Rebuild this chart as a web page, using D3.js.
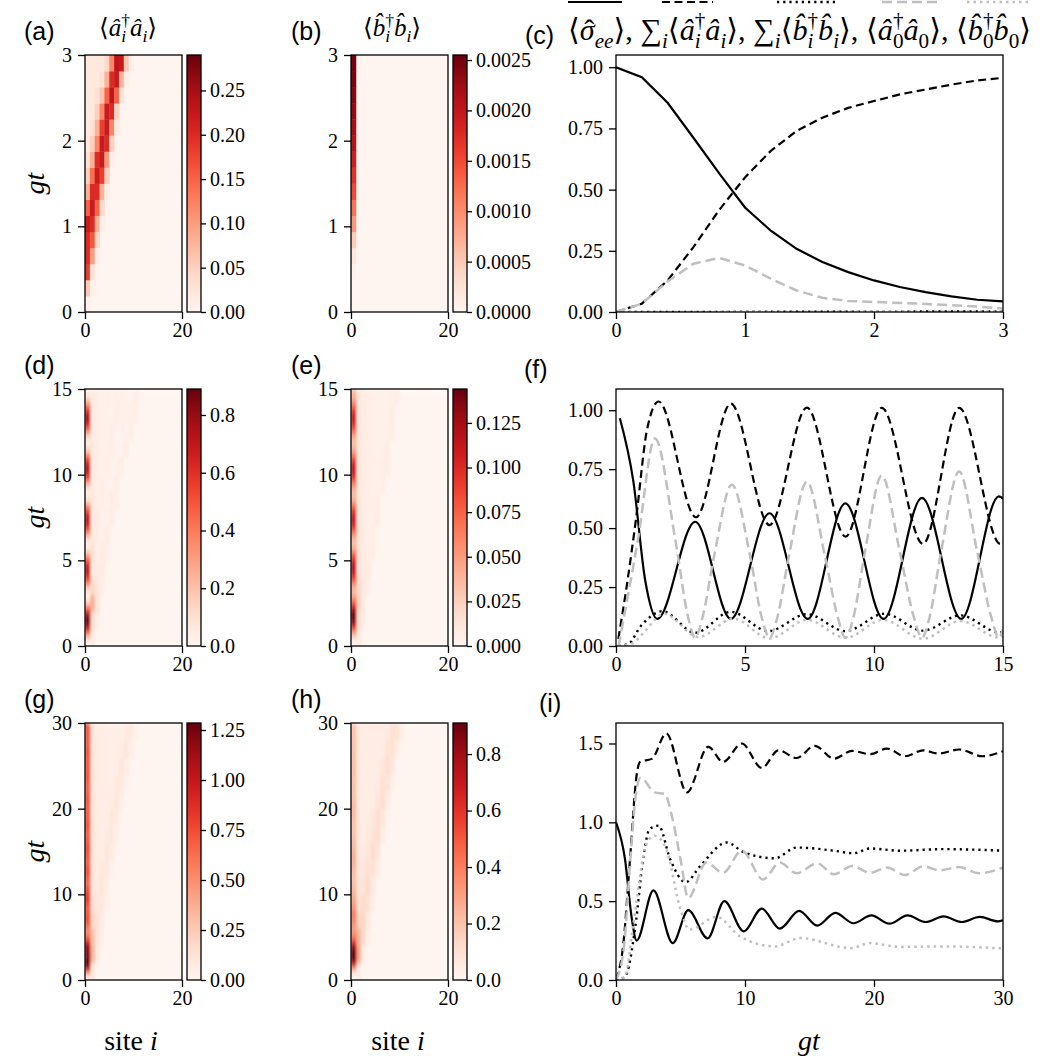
<!DOCTYPE html>
<html>
<head>
<meta charset="utf-8">
<script src="https://cdn.jsdelivr.net/npm/d3@7/dist/d3.min.js"></script>
<style>
  body { margin: 0; background: #fff; }
  svg { display: block; }
</style>
</head>
<body>
<div id="chart"></div>
<script>
// ---------- data ----------
// heatmap (a): <a_i^+ a_i>, gt 0..3 in 16 rows, values for sites 0,1,2,... (rest ~0)
var heatA = [
  [0.01],
  [0.06, 0.01],
  [0.18, 0.03],
  [0.20, 0.10, 0.01],
  [0.20, 0.16, 0.04],
  [0.22, 0.20, 0.08, 0.01],
  [0.15, 0.22, 0.15, 0.04],
  [0.08, 0.20, 0.20, 0.08, 0.01],
  [0.05, 0.14, 0.22, 0.18, 0.05],
  [0.03, 0.08, 0.20, 0.22, 0.10, 0.01],
  [0.02, 0.05, 0.12, 0.22, 0.20, 0.05],
  [0.02, 0.03, 0.08, 0.18, 0.22, 0.12, 0.02],
  [0.02, 0.02, 0.05, 0.12, 0.22, 0.20, 0.05],
  [0.02, 0.02, 0.03, 0.06, 0.15, 0.23, 0.15, 0.03],
  [0.02, 0.02, 0.02, 0.03, 0.08, 0.20, 0.22, 0.08, 0.01],
  [0.02, 0.02, 0.02, 0.02, 0.04, 0.12, 0.23, 0.22, 0.06, 0.01]
];
// heatmap (b): <b_i^+ b_i>, site 0 only, gt 0..3 in 16 rows
var heatB = [0.00001, 0.00002, 0.00005, 0.0002, 0.0005, 0.0009, 0.0012, 0.0015,
  0.0017, 0.0019, 0.0021, 0.0022, 0.0023, 0.0024, 0.00245, 0.0025];

// heatmap (d): site 0 in 60 rows (gt 0..15), sites 1..10 in 15 rows
var heatD0 = [0.01, 0.08, 0.28, 0.52, 0.74, 0.86, 0.86, 0.74, 0.52, 0.28, 0.11, 0.04,
  0.05, 0.14, 0.32, 0.50, 0.63, 0.68, 0.66, 0.58, 0.42, 0.24, 0.09, 0.04,
  0.06, 0.18, 0.36, 0.54, 0.65, 0.69, 0.66, 0.55, 0.39, 0.21, 0.08, 0.04,
  0.06, 0.17, 0.36, 0.55, 0.68, 0.72, 0.68, 0.56, 0.39, 0.21, 0.08, 0.04,
  0.08, 0.22, 0.42, 0.60, 0.71, 0.74, 0.67, 0.52, 0.35, 0.18, 0.07, 0.04];
var heatDRest = [
  [0.05],
  [0.12, 0.03],
  [0.25, 0.08],
  [0.12, 0.08, 0.03],
  [0.05, 0.05, 0.05],
  [0.10, 0.03, 0.05, 0.03],
  [0.06, 0.04, 0.02, 0.05],
  [0.05, 0.05, 0.02, 0.03, 0.04],
  [0.07, 0.03, 0.04, 0.02, 0.04, 0.03],
  [0.05, 0.03, 0.04, 0.02, 0.02, 0.04],
  [0.05, 0.03, 0.02, 0.04, 0.02, 0.02, 0.04],
  [0.06, 0.04, 0.02, 0.03, 0.03, 0.02, 0.02, 0.035],
  [0.05, 0.03, 0.03, 0.02, 0.035, 0.02, 0.02, 0.02, 0.035],
  [0.05, 0.03, 0.03, 0.02, 0.02, 0.035, 0.02, 0.02, 0.03, 0.03],
  [0.05, 0.03, 0.02, 0.03, 0.02, 0.03, 0.03, 0.02, 0.02, 0.035]
];

// heatmap (e)
var heatE0 = [0.0, 0.01, 0.03, 0.06, 0.10, 0.13, 0.142, 0.14, 0.125, 0.10, 0.07, 0.05,
  0.038, 0.04, 0.055, 0.08, 0.10, 0.113, 0.116, 0.11, 0.095, 0.075, 0.05, 0.036,
  0.035, 0.045, 0.065, 0.09, 0.105, 0.111, 0.108, 0.095, 0.075, 0.055, 0.04, 0.035,
  0.04, 0.055, 0.075, 0.095, 0.108, 0.111, 0.105, 0.09, 0.07, 0.05, 0.038, 0.033,
  0.04, 0.055, 0.075, 0.095, 0.105, 0.106, 0.10, 0.085, 0.065, 0.048, 0.038, 0.036];
var heatERest = [
  [0.01],
  [0.02, 0.005],
  [0.025, 0.008],
  [0.02, 0.01, 0.005],
  [0.015, 0.008, 0.008],
  [0.015, 0.008, 0.006, 0.006],
  [0.015, 0.008, 0.005, 0.007],
  [0.012, 0.008, 0.005, 0.005, 0.007],
  [0.012, 0.007, 0.006, 0.005, 0.007],
  [0.012, 0.007, 0.006, 0.005, 0.005, 0.007],
  [0.012, 0.007, 0.006, 0.005, 0.005, 0.006, 0.006],
  [0.012, 0.007, 0.006, 0.005, 0.004, 0.004, 0.007],
  [0.012, 0.007, 0.006, 0.005, 0.004, 0.004, 0.005, 0.006],
  [0.012, 0.007, 0.006, 0.005, 0.004, 0.004, 0.004, 0.007],
  [0.012, 0.007, 0.006, 0.005, 0.004, 0.004, 0.004, 0.005, 0.006]
];

// heatmap (g): site 0 in 60 rows (gt 0..30), sites 1..10 in 15 rows
var heatG0 = [0.05, 0.35, 0.90, 1.25, 1.26, 1.20, 1.18, 1.18, 1.05, 0.80, 0.58, 0.52,
  0.60, 0.72, 0.74, 0.71, 0.68, 0.72, 0.80, 0.82, 0.78, 0.70, 0.64, 0.66,
  0.72, 0.745, 0.72, 0.68, 0.69, 0.72, 0.74, 0.73, 0.70, 0.67, 0.68, 0.71,
  0.723, 0.71, 0.69, 0.68, 0.69, 0.71, 0.71, 0.69, 0.67, 0.67, 0.69, 0.72,
  0.715, 0.70, 0.696, 0.70, 0.712, 0.717, 0.70, 0.68, 0.677, 0.69, 0.705, 0.713];
var heatGRest = [
  [0.10],
  [0.35, 0.08],
  [0.30, 0.12, 0.03],
  [0.20, 0.13, 0.06],
  [0.15, 0.10, 0.10, 0.03],
  [0.12, 0.08, 0.11, 0.05],
  [0.12, 0.07, 0.09, 0.10, 0.03],
  [0.12, 0.07, 0.06, 0.10, 0.07],
  [0.12, 0.07, 0.06, 0.08, 0.10, 0.04],
  [0.12, 0.07, 0.06, 0.06, 0.10, 0.08],
  [0.12, 0.07, 0.06, 0.06, 0.07, 0.10, 0.05],
  [0.12, 0.07, 0.06, 0.06, 0.05, 0.09, 0.09, 0.03],
  [0.12, 0.07, 0.06, 0.06, 0.05, 0.06, 0.10, 0.07],
  [0.12, 0.07, 0.06, 0.06, 0.05, 0.05, 0.07, 0.10, 0.05],
  [0.12, 0.07, 0.06, 0.06, 0.05, 0.05, 0.05, 0.09, 0.09, 0.03]
];

// heatmap (h)
var heatH0 = [0.0, 0.03, 0.25, 0.60, 0.85, 0.91, 0.90, 0.84, 0.70, 0.50, 0.38, 0.32,
  0.33, 0.36, 0.39, 0.40, 0.37, 0.32, 0.29, 0.27, 0.25, 0.235, 0.22, 0.215,
  0.213, 0.22, 0.24, 0.26, 0.266, 0.26, 0.245, 0.23, 0.22, 0.21, 0.205, 0.202,
  0.202, 0.215, 0.228, 0.234, 0.23, 0.222, 0.215, 0.21, 0.21, 0.212, 0.214, 0.215,
  0.214, 0.213, 0.213, 0.212, 0.21, 0.207, 0.205, 0.203, 0.202, 0.201, 0.20, 0.20];
var heatHRest = [
  [0.05],
  [0.30, 0.05],
  [0.25, 0.12, 0.03],
  [0.15, 0.14, 0.06],
  [0.10, 0.12, 0.10, 0.03],
  [0.08, 0.09, 0.12, 0.06],
  [0.07, 0.07, 0.10, 0.10, 0.04],
  [0.06, 0.06, 0.07, 0.12, 0.08],
  [0.06, 0.05, 0.06, 0.09, 0.11, 0.05],
  [0.06, 0.05, 0.05, 0.07, 0.11, 0.08],
  [0.06, 0.05, 0.05, 0.05, 0.08, 0.11, 0.05],
  [0.06, 0.05, 0.05, 0.05, 0.06, 0.10, 0.09, 0.03],
  [0.06, 0.05, 0.05, 0.05, 0.05, 0.07, 0.11, 0.07],
  [0.06, 0.05, 0.05, 0.05, 0.05, 0.05, 0.09, 0.10, 0.04],
  [0.06, 0.05, 0.05, 0.05, 0.05, 0.05, 0.06, 0.10, 0.09, 0.03]
];

// panel (c): gt 0..3 step 0.2
var cTime = [0, 0.2, 0.4, 0.6, 0.8, 1.0, 1.2, 1.4, 1.6, 1.8, 2.0, 2.2, 2.4, 2.6, 2.8, 3.0];
var cSigma = [1.0, 0.959, 0.855, 0.712, 0.566, 0.427, 0.332, 0.258, 0.204, 0.163, 0.129, 0.102, 0.081, 0.064, 0.050, 0.043];
var cSumA = [0, 0.034, 0.129, 0.265, 0.417, 0.55, 0.658, 0.74, 0.794, 0.834, 0.862, 0.889, 0.909, 0.929, 0.946, 0.957];
var cSumB = [0, 0.00002, 0.0001, 0.0003, 0.0005, 0.0008, 0.001, 0.0012, 0.0014, 0.0015, 0.0016, 0.0017, 0.0018, 0.0019, 0.002, 0.002];
var cA0 = [0, 0.034, 0.125, 0.197, 0.221, 0.19, 0.136, 0.088, 0.058, 0.045, 0.041, 0.037, 0.033, 0.028, 0.022, 0.014];
var cB0 = [0, 0.00002, 0.0001, 0.0003, 0.0005, 0.0008, 0.001, 0.0012, 0.0014, 0.0015, 0.0016, 0.0017, 0.0018, 0.0019, 0.002, 0.002];

// panel (f): [gt, value]
var fSigma = [[0.15, 0.966], [0.67, 0.70], [1.13, 0.28], [1.6, 0.115], [3.07, 0.527], [4.45, 0.115],
  [5.95, 0.563], [7.43, 0.115], [8.89, 0.605], [10.37, 0.115], [11.86, 0.628], [13.38, 0.115],
  [14.84, 0.635], [15, 0.625]];
var fSumA = [[0.09, 0.03], [0.41, 0.25], [0.8, 0.56], [1.19, 0.91], [1.65, 1.037], [3.1, 0.546],
  [4.45, 1.028], [5.95, 0.513], [7.4, 1.011], [8.9, 0.464], [10.3, 1.01], [11.9, 0.433],
  [13.3, 1.01], [14.9, 0.433], [15, 0.44]];
var fSumB = [[0.1, 0], [0.5, 0.01], [0.93, 0.08], [1.32, 0.123], [1.8, 0.148], [3.07, 0.056],
  [4.45, 0.145], [5.9, 0.063], [7.4, 0.135], [8.9, 0.063], [10.4, 0.137], [11.9, 0.065],
  [13.35, 0.13], [14.85, 0.058], [15, 0.06]];
var fA0 = [[0.1, 0], [0.85, 0.45], [1.51, 0.88], [2.3, 0.45], [2.8, 0.12], [3.07, 0.035], [3.35, 0.12],
  [3.8, 0.38], [4.49, 0.684], [5.2, 0.38], [5.65, 0.12], [5.95, 0.035], [6.25, 0.12], [6.7, 0.38],
  [7.4, 0.697], [8.1, 0.38], [8.6, 0.12], [8.89, 0.035], [9.2, 0.12], [9.65, 0.4], [10.3, 0.723],
  [11.0, 0.4], [11.55, 0.12], [11.86, 0.035], [12.15, 0.12], [12.6, 0.4], [13.3, 0.74], [14.0, 0.4],
  [14.55, 0.12], [14.84, 0.035], [15, 0.07]];
var fB0 = [[0.1, 0], [0.6, 0.01], [1.1, 0.06], [1.5, 0.11], [1.85, 0.137], [3.2, 0.038], [4.55, 0.116],
  [5.95, 0.032], [7.4, 0.111], [8.9, 0.035], [10.35, 0.111], [11.9, 0.031], [13.35, 0.106],
  [14.85, 0.036], [15, 0.04]];

// panel (i): [gt, value]
var iSigma = [[0, 1.0], [0.7, 0.766], [1.2, 0.404], [1.6, 0.25], [2.9, 0.568], [4.4, 0.234], [5.6, 0.443],
  [7.1, 0.264], [8.4, 0.50], [9.9, 0.309], [11.3, 0.453], [12.7, 0.326], [14.2, 0.438], [15.6, 0.345],
  [17, 0.426], [18.4, 0.36], [19.8, 0.41], [21.2, 0.357], [22.6, 0.41], [24, 0.368], [25.4, 0.404],
  [26.8, 0.368], [28.2, 0.40], [29.6, 0.372], [30, 0.378]];
var iSumA = [[0, 0], [0.57, 0.23], [1.09, 0.77], [1.6, 1.3], [1.86, 1.383], [2.8, 1.404], [3.9, 1.564],
  [5.5, 1.19], [7.15, 1.479], [8.3, 1.383], [9.75, 1.5], [11.3, 1.345], [12.6, 1.457], [14, 1.408],
  [15.4, 1.485], [16.9, 1.404], [18.3, 1.453], [19.7, 1.432], [21, 1.468], [22.4, 1.419], [23.8, 1.457],
  [25, 1.436], [26.6, 1.462], [28.4, 1.419], [30, 1.451]];
var iSumB = [[0, 0], [0.7, 0.02], [1.5, 0.34], [2.1, 0.766], [2.6, 0.957], [3.3, 0.979], [4.2, 0.766],
  [5.4, 0.62], [6.5, 0.72], [8.6, 0.872], [9.9, 0.81], [12.3, 0.772], [14, 0.84], [16.9, 0.82],
  [18.4, 0.804], [19.7, 0.834], [22, 0.82], [25.4, 0.83], [30, 0.82]];
var iA0 = [[0, 0], [0.6, 0.2], [1.1, 0.75], [1.5, 1.15], [1.9, 1.283], [3.0, 1.19], [3.8, 1.18], [4.3, 1.05],
  [5.0, 0.766], [5.6, 0.52], [7.0, 0.745], [8.3, 0.68], [9.75, 0.82], [11.4, 0.638], [12.7, 0.745],
  [14, 0.677], [15.6, 0.74], [16.9, 0.67], [18.3, 0.723], [19.7, 0.68], [21, 0.713], [22.4, 0.666],
  [23.8, 0.72], [25.1, 0.696], [26.6, 0.717], [28.1, 0.677], [30, 0.713]];
var iB0 = [[0, 0], [0.7, 0.02], [1.35, 0.36], [2.4, 0.87], [3.0, 0.915], [3.9, 0.83], [5.0, 0.447],
  [5.7, 0.32], [7.8, 0.40], [9.6, 0.277], [12.3, 0.213], [14.3, 0.266], [18.2, 0.202], [19.7, 0.234],
  [22, 0.21], [25.4, 0.213], [30, 0.20]];

// ---------- layout ----------
var SERIF = "'Liberation Serif', 'DejaVu Serif', serif";
var SANS = "'Liberation Sans', Arial, sans-serif";
var rowTop = [55, 389, 723];
var plotH = 257;
var hmW = 97;
var cbW = 14;
var lineX0 = 616, lineX1 = 1003;

var svg = d3.select('#chart')
    .append('svg')
    .attr('width', 1050)
    .attr('height', 1063);
var defs = svg.append('defs');

// colorbar gradient (Reds)
var grad = defs.append('linearGradient')
    .attr('id', 'reds')
    .attr('x1', 0).attr('y1', 1).attr('x2', 0).attr('y2', 0);
d3.range(0, 1.0001, 0.05).forEach(function(t) {
  grad.append('stop').attr('offset', t).attr('stop-color', d3.interpolateReds(t));
});

var blur = defs.append('filter').attr('id', 'soft')
    .attr('x', 0).attr('y', 0).attr('width', 1).attr('height', 1);
blur.append('feGaussianBlur').attr('stdDeviation', '0.8 2.5').attr('edgeMode', 'duplicate');

function styleAxis(sel) {
  sel.select('.domain').remove();
  sel.selectAll('.tick line').attr('stroke', '#000').attr('stroke-width', 1.3);
  sel.selectAll('.tick text')
      .attr('font-family', SERIF)
      .attr('font-size', 20)
      .attr('fill', '#000');
}

function frame(x, y, w, h) {
  svg.append('rect')
      .attr('x', x).attr('y', y).attr('width', w).attr('height', h)
      .attr('fill', 'none').attr('stroke', '#000').attr('stroke-width', 1.3);
}

// Heatmap with colorbar; layers = [{rows, first}]
function heatPanel(id, x0, top, tMax, yTicks, vmax, cbTicks, cbFmt, layers, soft) {
  var x = d3.scaleLinear().domain([0, 20]).range([x0, x0 + hmW]);
  var y = d3.scaleLinear().domain([0, tMax]).range([top + plotH, top]);
  var color = d3.scaleSequential(d3.interpolateReds).domain([0, vmax]);

  defs.append('clipPath').attr('id', id)
    .append('rect').attr('x', x0).attr('y', top).attr('width', hmW).attr('height', plotH);
  var g = svg.append('g').attr('clip-path', 'url(#' + id + ')');
  var hg = g.append('g');
  if (soft) hg.attr('filter', 'url(#soft)');
  hg.append('rect')
      .attr('x', x0).attr('y', top).attr('width', hmW).attr('height', plotH)
      .attr('fill', color(0));

  layers.forEach(function(L) {
    var n = L.rows.length;
    var dt = tMax / n;
    var cells = [];
    L.rows.forEach(function(row, k) {
      (Array.isArray(row) ? row : [row]).forEach(function(v, j) {
        cells.push({ t0: k * dt, t1: (k + 1) * dt, s: L.first + j, v: v });
      });
    });
    hg.selectAll(null)
        .data(cells)
        .enter()
        .append('rect')
        .attr('x', function(d) { return x(d.s); })
        .attr('width', x(1) - x(0) + 0.4)
        .attr('y', function(d) { return y(d.t1); })
        .attr('height', function(d) { return y(d.t0) - y(d.t1) + 0.4; })
        .attr('fill', function(d) { return color(d.v); });
  });

  svg.append('g')
      .attr('transform', 'translate(0,' + (top + plotH) + ')')
      .call(d3.axisBottom(x).tickValues([0, 20]).tickSize(7).tickPadding(4).tickFormat(d3.format('d')))
      .call(styleAxis);
  svg.append('g')
      .attr('transform', 'translate(' + x0 + ',0)')
      .call(d3.axisLeft(y).tickValues(yTicks).tickSize(7).tickPadding(6).tickFormat(d3.format('d')))
      .call(styleAxis);
  frame(x0, top, hmW, plotH);

  // colorbar
  var cbx = x0 + hmW + 5;
  var cy = d3.scaleLinear().domain([0, vmax]).range([top + plotH, top]);
  svg.append('rect')
      .attr('x', cbx).attr('y', top).attr('width', cbW).attr('height', plotH)
      .attr('fill', 'url(#reds)');
  svg.append('g')
      .attr('transform', 'translate(' + (cbx + cbW) + ',0)')
      .call(d3.axisRight(cy).tickValues(cbTicks).tickSize(5).tickPadding(4).tickFormat(d3.format(cbFmt)))
      .call(styleAxis);
  frame(cbx, top, cbW, plotH);
}

var styles = [
  { stroke: '#000', w: 2.2, dash: null },
  { stroke: '#000', w: 2.2, dash: '8,4.5' },
  { stroke: '#000', w: 2.4, dash: '2.2,4' },
  { stroke: '#bfbfbf', w: 2.5, dash: '10,5' },
  { stroke: '#bfbfbf', w: 2.5, dash: '2.5,4' }
];

function linePanel(id, top, xMax, yMax, xTicks, yTicks, yFmt, series, curve) {
  var x = d3.scaleLinear().domain([0, xMax]).range([lineX0, lineX1]);
  var y = d3.scaleLinear().domain([0, yMax]).range([top + plotH, top]);
  defs.append('clipPath').attr('id', id)
    .append('rect').attr('x', lineX0).attr('y', top).attr('width', lineX1 - lineX0).attr('height', plotH);
  var g = svg.append('g').attr('clip-path', 'url(#' + id + ')');
  var line = d3.line()
      .x(function(d) { return x(d[0]); })
      .y(function(d) { return y(d[1]); })
      .curve(curve);
  series.forEach(function(s, i) {
    var st = styles[i];
    g.append('path')
        .datum(s)
        .attr('d', line)
        .attr('fill', 'none')
        .attr('stroke', st.stroke)
        .attr('stroke-width', st.w)
        .attr('stroke-dasharray', st.dash);
  });
  svg.append('g')
      .attr('transform', 'translate(0,' + (top + plotH) + ')')
      .call(d3.axisBottom(x).tickValues(xTicks).tickSize(7).tickPadding(4).tickFormat(d3.format('d')))
      .call(styleAxis);
  svg.append('g')
      .attr('transform', 'translate(' + lineX0 + ',0)')
      .call(d3.axisLeft(y).tickValues(yTicks).tickSize(7).tickPadding(6).tickFormat(d3.format(yFmt)))
      .call(styleAxis);
  frame(lineX0, top, lineX1 - lineX0, plotH);
}

// Math-like text from pieces {t, it, hat, s:'sup'|'sub', stack}
function mathText(x, y, pieces, size, anchor) {
  var g = svg.append('g');
  var cx = 0, scriptX = 0, scriptW = 0;
  pieces.forEach(function(p) {
    var fs = p.s ? size * 0.7 : size;
    var dy = p.s === 'sup' ? -size * 0.42 : (p.s === 'sub' ? size * 0.25 : 0);
    var px = p.stack ? scriptX : cx;
    var t = g.append('text')
        .attr('x', px).attr('y', dy)
        .attr('font-family', SERIF)
        .attr('font-size', fs)
        .attr('font-style', p.it ? 'italic' : 'normal')
        .text(p.t);
    var w = t.node().getComputedTextLength();
    if (p.hat) {
      g.append('text')
          .attr('x', px + w / 2 + size * 0.07).attr('y', dy)
          .attr('text-anchor', 'middle')
          .attr('font-family', SERIF)
          .attr('font-size', fs)
          .text('\u02C6');
    }
    if (p.s) {
      if (p.stack) {
        cx = scriptX + Math.max(scriptW, w);
      } else {
        scriptX = cx; scriptW = w; cx += w;
      }
    } else {
      cx += w;
    }
  });
  var off = anchor === 'middle' ? -cx / 2 : 0;
  g.attr('transform', 'translate(' + (x + off) + ',' + y + ')');
  return { g: g, w: cx };
}

function label(x, y, txt) {
  svg.append('text')
      .attr('x', x).attr('y', y)
      .attr('font-family', SANS)
      .attr('font-size', 25)
      .text(txt);
}

function gtLabel(x, y, rot) {
  svg.append('text')
      .attr('transform', 'translate(' + x + ',' + y + ')' + (rot ? ' rotate(-90)' : ''))
      .attr('text-anchor', 'middle')
      .attr('font-family', SERIF)
      .attr('font-size', 28)
      .attr('font-style', 'italic')
      .text('gt');
}

// ---------- panels ----------
heatPanel('ha', 85, rowTop[0], 3, [0, 1, 2, 3], 0.29, [0, 0.05, 0.10, 0.15, 0.20, 0.25], '.2f',
  [{ rows: heatA, first: 0 }], false);
heatPanel('hb', 351, rowTop[0], 3, [0, 1, 2, 3], 0.00255, [0, 0.0005, 0.0010, 0.0015, 0.0020, 0.0025], '.4f',
  [{ rows: heatB, first: 0 }], false);
heatPanel('hd', 85, rowTop[1], 15, [0, 5, 10, 15], 0.89, [0, 0.2, 0.4, 0.6, 0.8], '.1f',
  [{ rows: heatDRest, first: 1 }, { rows: heatD0, first: 0 }], true);
heatPanel('he', 351, rowTop[1], 15, [0, 5, 10, 15], 0.144, [0, 0.025, 0.05, 0.075, 0.1, 0.125], '.3f',
  [{ rows: heatERest, first: 1 }, { rows: heatE0, first: 0 }], true);
heatPanel('hg', 85, rowTop[2], 30, [0, 10, 20, 30], 1.285, [0, 0.25, 0.5, 0.75, 1.0, 1.25], '.2f',
  [{ rows: heatGRest, first: 1 }, { rows: heatG0, first: 0 }], true);
heatPanel('hh', 351, rowTop[2], 30, [0, 10, 20, 30], 0.91, [0, 0.2, 0.4, 0.6, 0.8], '.1f',
  [{ rows: heatHRest, first: 1 }, { rows: heatH0, first: 0 }], true);

linePanel('lc', rowTop[0], 3, 1.05, [0, 1, 2, 3], [0, 0.25, 0.5, 0.75, 1.0], '.2f',
  [d3.zip(cTime, cSigma), d3.zip(cTime, cSumA), d3.zip(cTime, cSumB), d3.zip(cTime, cA0), d3.zip(cTime, cB0)],
  d3.curveLinear);
linePanel('lf', rowTop[1], 15, 1.09, [0, 5, 10, 15], [0, 0.25, 0.5, 0.75, 1.0], '.2f',
  [fSigma, fSumA, fSumB, fA0, fB0], d3.curveMonotoneX);
linePanel('li', rowTop[2], 30, 1.63, [0, 10, 20, 30], [0, 0.5, 1.0, 1.5], '.1f',
  [iSigma, iSumA, iSumB, iA0, iB0], d3.curveMonotoneX);

// ---------- labels ----------
label(24, 40, '(a)'); label(291, 40, '(b)'); label(525, 44, '(c)');
label(24, 374, '(d)'); label(291, 374, '(e)'); label(524, 378, '(f)');
label(24, 708, '(g)'); label(291, 708, '(h)'); label(539, 712, '(i)');

var HAT_B = 'b\u0302';
var NB = '\u00A0';
mathText(128, 36, [{ t: '\u27E8' }, { t: '\u00E2', it: true }, { t: '\u2020', s: 'sup' }, { t: 'i', s: 'sub', it: true, stack: true },
  { t: '\u00E2', it: true }, { t: 'i', s: 'sub', it: true }, { t: '\u27E9' }], 25, 'middle');
mathText(392, 36, [{ t: '\u27E8' }, { t: HAT_B, it: true }, { t: '\u2020', s: 'sup' }, { t: 'i', s: 'sub', it: true, stack: true },
  { t: HAT_B, it: true }, { t: 'i', s: 'sub', it: true }, { t: '\u27E9' }], 25, 'middle');

var legendPieces = [
  { t: '\u27E8' }, { t: '\u03C3', it: true, hat: true }, { t: 'ee', s: 'sub', it: true }, { t: '\u27E9,' + NB },
  { t: '\u2211' }, { t: 'i', s: 'sub', it: true }, { t: '\u27E8' }, { t: '\u00E2', it: true }, { t: '\u2020', s: 'sup' },
  { t: 'i', s: 'sub', it: true, stack: true }, { t: '\u00E2', it: true }, { t: 'i', s: 'sub', it: true }, { t: '\u27E9,' + NB },
  { t: '\u2211' }, { t: 'i', s: 'sub', it: true }, { t: '\u27E8' }, { t: HAT_B, it: true }, { t: '\u2020', s: 'sup' },
  { t: 'i', s: 'sub', it: true, stack: true }, { t: HAT_B, it: true }, { t: 'i', s: 'sub', it: true }, { t: '\u27E9,' + NB },
  { t: '\u27E8' }, { t: '\u00E2', it: true }, { t: '\u2020', s: 'sup' }, { t: '0', s: 'sub', stack: true },
  { t: '\u00E2', it: true }, { t: '0', s: 'sub' }, { t: '\u27E9,' + NB },
  { t: '\u27E8' }, { t: HAT_B, it: true }, { t: '\u2020', s: 'sup' }, { t: '0', s: 'sub', stack: true },
  { t: HAT_B, it: true }, { t: '0', s: 'sub' }, { t: '\u27E9' }
];
var leg = mathText(0, 0, legendPieces, 25, 'start');
var legScale = (1031 - 568) / leg.w;
leg.g.attr('transform', 'translate(568,40) scale(' + legScale + ')');

// legend line samples (top edge)
var legX = [[568, 622], [662, 713], [777, 835], [882, 940], [967, 1030]];
legX.forEach(function(p, i) {
  var st = styles[i];
  svg.append('line')
      .attr('x1', p[0]).attr('x2', p[1]).attr('y1', 2).attr('y2', 2)
      .attr('stroke', st.stroke).attr('stroke-width', st.w)
      .attr('stroke-dasharray', st.dash);
});

gtLabel(44, rowTop[0] + plotH / 2, true);
gtLabel(44, rowTop[1] + plotH / 2, true);
gtLabel(44, rowTop[2] + plotH / 2, true);
gtLabel(809, 1050, false);

[131, 398].forEach(function(cx) {
  var t = svg.append('text')
      .attr('x', cx).attr('y', 1050)
      .attr('text-anchor', 'middle')
      .attr('font-family', SERIF)
      .attr('font-size', 28);
  t.append('tspan').text('site\u00A0');
  t.append('tspan').attr('font-style', 'italic').text('i');
});
</script>
</body>
</html>
